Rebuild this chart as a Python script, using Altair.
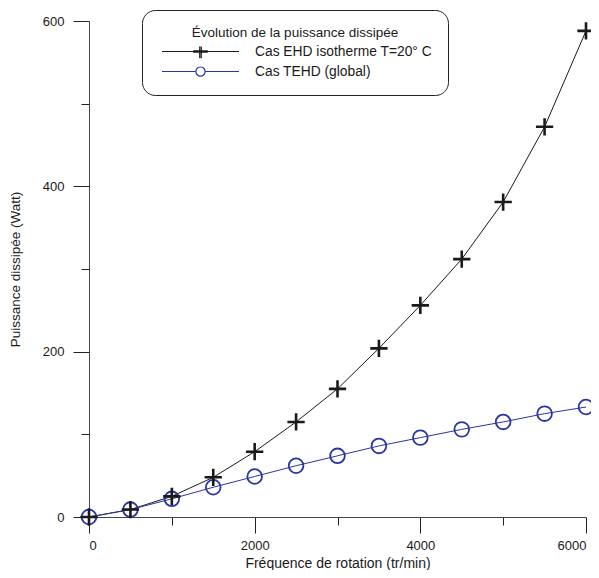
import altair as alt
import pandas as pd

# ---- data ----
rpm = [0, 500, 1000, 1500, 2000, 2500, 3000, 3500, 4000, 4500, 5000, 5500, 6000]
ehd = [0, 9, 25, 48, 79, 115, 155, 204, 256, 312, 381, 472, 588]
tehd = [0, 9, 22, 36, 49, 62, 74, 86, 96, 106, 115, 125, 133]
series_names = ["Cas EHD isotherme T=20° C", "Cas TEHD (global)"]
series_colors = ["#1a1a1a", "#2b35a0"]
x_ticks = [0, 1000, 2000, 3000, 4000, 5000, 6000]
y_ticks = [0, 100, 200, 300, 400, 500, 600]

df = pd.DataFrame({
    "rpm": rpm + rpm,
    "power": ehd + tehd,
    "series": [series_names[0]] * len(rpm) + [series_names[1]] * len(rpm),
})

FONT = "Liberation Sans"

plus_path = "M-1,0H1M0,-1V1"
legend_paths = [
    "M-1,0H1M-0.02,-0.19V0.19M0.02,-0.19V0.19M-0.19,-0.02H0.19M-0.19,0.02H0.19",
    "M-1,0H-0.12M0.12,0H1M-0.12,0A0.12,0.12,0,1,0,0.12,0A0.12,0.12,0,1,0,-0.12,0",
]

color_scale = alt.Scale(domain=series_names, range=series_colors)

x_enc = alt.X(
    "rpm:Q",
    scale=alt.Scale(domain=[0, 6000], nice=False, zero=False),
    axis=alt.Axis(
        title="Fréquence de rotation (tr/min)",
        values=x_ticks,
        format="d",
        labelExpr="datum.value % 2000 ? '' : datum.label",
        tickSize=16,
        tickDash={"condition": {"test": "datum.value % 2000 !== 0", "value": [8, 8]}, "value": [16, 0]},
        labelPadding=6,
        titleY=50,
        titleBaseline="alphabetic",
        titleFontSize=14,
        grid=False,
    ),
)
y_enc = alt.Y(
    "power:Q",
    scale=alt.Scale(domain=[0, 600], nice=False),
    axis=alt.Axis(
        title="Puissance dissipée (Watt)",
        values=y_ticks,
        format="d",
        labelExpr="datum.value % 200 ? '' : datum.label",
        tickSize=16,
        tickDash={"condition": {"test": "datum.value % 200 !== 0", "value": [8, 8]}, "value": [16, 0]},
        labelPadding=9,
        titleX=-70,
        titleY=248,
        titleAngle=-90,
        titleAlign="center",
        titleBaseline="alphabetic",
        titleFontSize=13.5,
        grid=False,
    ),
)

base = alt.Chart(df)

legend_def = dict(
    title="Évolution de la puissance dissipée",
    orient="none",
    legendX=53,
    legendY=-11,
    padding=16,
    strokeColor="#222222",
    fillColor="white",
    cornerRadius=13,
    symbolSize=5929,
    symbolStrokeWidth=1.2,
    symbolOpacity=1,
    symbolOffset=3,
    clipHeight=10,
    labelOffset=15,
    labelLimit=400,
    titleLimit=400,
    titleAnchor="middle",
    titleAlign="center",
    titleFontWeight="normal",
    titleFontSize=13.5,
    labelFontSize=13.8,
    titleFont=FONT,
    labelFont=FONT,
    titleColor="#1a1a1a",
    labelColor="#1a1a1a",
    titlePadding=7,
    rowPadding=6,
)

# legend carrier (first layer): drawn invisibly, only its legend is shown
legend_layer = base.mark_point(filled=False, strokeWidth=1.2).encode(
    x=x_enc, y=y_enc,
    color=alt.Color("series:N", scale=color_scale, legend=alt.Legend(**legend_def)),
    shape=alt.Shape("series:N", scale=alt.Scale(domain=series_names, range=legend_paths),
                    legend=alt.Legend(**legend_def)),
    strokeOpacity=alt.value(0),
)

lines = base.mark_line(strokeWidth=1).encode(
    x=x_enc, y=y_enc,
    color=alt.Color("series:N", scale=color_scale),
    detail="series:N",
)

circles = base.transform_filter(
    alt.datum.series == series_names[1]
).mark_point(shape="circle", size=215, filled=False, strokeWidth=1.8,
             color=series_colors[1], opacity=1).encode(x=x_enc, y=y_enc)

pluses = base.transform_filter(
    alt.datum.series == series_names[0]
).mark_point(shape=plus_path, size=300, filled=False, strokeWidth=2.6,
             color=series_colors[0], opacity=1).encode(x=x_enc, y=y_enc)

chart = alt.layer(legend_layer, lines, circles, pluses).properties(
    width=497,
    height=496,
    autosize=alt.AutoSizeParams(type="none"),
    padding={"left": 81, "top": 13, "right": 5, "bottom": 53},
).configure_view(
    stroke=None
).configure_axis(
    labelFont=FONT,
    titleFont=FONT,
    labelFontSize=13,
    titleFontWeight="normal",
    labelColor="#1a1a1a",
    titleColor="#1a1a1a",
    domainColor="#444444",
    tickColor="#222222",
    domainWidth=1,
    tickWidth=1,
)

chart.save("out.html", embed_options={"renderer": "svg", "actions": False})
